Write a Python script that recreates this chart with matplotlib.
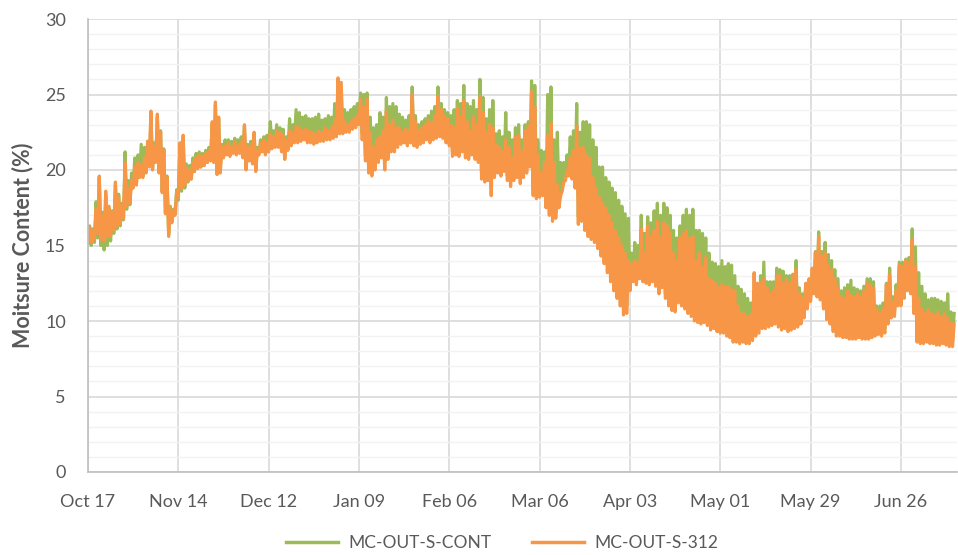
import numpy as np
import matplotlib
matplotlib.use("Agg")
import matplotlib.pyplot as plt
from datetime import datetime, timedelta

plt.rcParams['font.family'] = ['Lato', 'DejaVu Sans']

start_date = "2018-10-17"
tick_labels = ["Oct 17", "Nov 14", "Dec 12", "Jan 09", "Feb 06", "Mar 06",
               "Apr 03", "May 01", "May 29", "Jun 26"]
series_names = ["MC-OUT-S-CONT", "MC-OUT-S-312"]

# Daily low / high readings (one value per day, starting Oct 17)
orange_hi = [
    16.2, 16.0, 17.4, 19.6, 17.0, 18.6, 17.6, 17.2, 19.2, 18.2, 17.6, 20.5, 18.8, 19.3,
    20.2, 20.5, 20.3, 20.8, 21.9, 23.9, 21.5, 23.7, 22.5, 21.3, 19.5, 17.5, 17.3, 18.6,
    21.8, 22.3, 20.2, 20.0, 20.5, 20.8, 21.0, 20.9, 21.1, 21.3, 23.2, 24.5, 23.5, 21.5,
    21.6, 21.8, 21.5, 21.9, 21.6, 21.8, 23.0, 21.5, 21.6, 22.5, 21.3, 21.8, 22.0, 21.8,
    22.4, 22.2, 22.6, 22.5, 22.3, 21.9, 22.6, 22.4, 22.9, 22.8, 22.6, 22.7, 22.6, 22.5,
    22.4, 22.6, 22.5, 22.8, 22.6, 22.8, 23.3, 26.1, 25.8, 23.3, 23.0, 23.2, 23.4, 23.6,
    24.7, 24.2, 24.7, 22.5, 21.5, 22.0, 22.2, 22.6, 23.9, 23.0, 23.3, 22.8, 22.8, 22.5,
    22.7, 22.6, 25.0, 23.2, 22.6, 22.8, 23.0, 23.3, 23.1, 23.6, 24.9, 24.0, 23.6, 23.4,
    23.0, 22.8, 24.1, 23.5, 24.6, 23.2, 22.6, 23.5, 23.0, 24.8, 23.8, 22.5, 23.0, 22.8,
    21.7, 21.5, 21.2, 22.0, 21.5, 20.8, 22.2, 22.3, 21.2, 22.6, 22.9, 25.2, 24.2, 21.0,
    19.8, 20.5, 22.3, 23.1, 20.5, 19.0, 18.3, 19.2, 20.0, 20.8, 21.3, 22.9, 21.4, 21.5,
    21.0, 20.8, 19.5, 18.8, 18.2, 17.8, 17.5, 17.0, 16.5, 16.0, 15.5, 15.0, 14.5, 14.0,
    13.8, 14.0, 13.9, 16.1, 14.5, 16.3, 15.6, 16.0, 16.6, 15.5, 16.5, 16.3, 15.8, 14.5,
    14.0, 15.5, 15.8, 16.0, 15.5, 15.6, 14.0, 14.5, 13.6, 14.2, 12.8, 12.7, 12.5, 12.2,
    12.4, 12.3, 12.3, 12.1, 12.0, 11.0, 10.5, 10.5, 10.3, 10.4, 13.2, 12.5, 12.5, 12.8,
    12.2, 11.8, 12.0, 13.0, 13.0, 12.5, 12.8, 12.5, 13.0, 13.4, 11.8, 11.5, 12.5, 12.8,
    13.5, 14.5, 15.6, 14.3, 14.5, 13.7, 13.4, 12.8, 12.2, 11.6, 11.5, 12.0, 11.7, 11.6,
    11.8, 11.6, 12.0, 12.5, 12.4, 12.2, 10.8, 10.5, 10.8, 12.4, 13.1, 11.2, 12.0, 13.7,
    13.6, 14.0, 13.8, 15.4, 13.6, 11.5, 10.8, 10.5, 10.8, 10.5, 10.4, 10.6, 10.3, 10.5,
    10.2, 9.9, 9.8]
orange_lo = [
    15.3, 15.2, 15.4, 15.8, 15.4, 15.3, 15.6, 15.6, 16.0, 16.3, 16.4, 16.8, 17.6, 17.8,
    18.8, 19.0, 19.5, 19.5, 19.8, 20.2, 20.0, 20.5, 19.8, 18.5, 17.1, 15.6, 16.5, 17.0,
    18.2, 18.8, 19.0, 19.3, 19.4, 19.9, 20.1, 20.2, 20.3, 20.5, 20.6, 20.5, 19.7, 19.8,
    20.8, 21.0, 20.9, 21.1, 21.0, 21.1, 20.8, 20.0, 20.6, 20.4, 19.9, 21.0, 21.2, 21.0,
    21.2, 21.4, 21.5, 21.5, 21.2, 20.7, 21.3, 21.6, 21.8, 21.8, 21.9, 22.0, 21.8, 21.8,
    21.7, 21.8, 21.9, 21.9, 22.0, 22.0, 22.1, 22.2, 22.4, 22.4, 22.5, 22.5, 22.7, 22.8,
    23.0, 22.0, 20.6, 19.8, 19.6, 20.0, 20.5, 20.8, 20.0, 20.7, 21.2, 21.2, 21.5, 21.7,
    21.8, 21.6, 21.8, 21.6, 21.5, 21.7, 21.8, 22.0, 21.8, 22.0, 22.1, 22.2, 22.1, 21.8,
    21.6, 20.9, 21.0, 20.9, 21.2, 20.8, 20.7, 21.0, 20.7, 20.5, 19.4, 19.2, 19.3, 18.3,
    19.5, 19.8, 19.6, 19.9, 19.3, 18.9, 19.3, 19.5, 19.1, 19.5, 19.8, 20.2, 18.3, 18.1,
    18.2, 18.3, 17.5, 17.0, 16.6, 16.8, 17.5, 18.6, 19.3, 19.6, 19.4, 18.8, 16.4, 16.6,
    16.0, 15.6, 15.4, 15.2, 14.8, 14.3, 13.8, 13.2, 12.6, 12.0, 11.5, 11.0, 10.4, 10.5,
    12.0, 12.6, 12.4, 12.8, 12.6, 12.5, 12.4, 12.6, 12.3, 11.8, 12.2, 11.5, 11.0, 10.7,
    10.6, 11.2, 11.0, 10.8, 10.5, 10.3, 10.0, 9.9, 9.8, 9.9, 9.7, 9.4, 9.5, 9.3,
    9.2, 9.2, 9.0, 8.9, 8.6, 8.6, 8.5, 8.6, 8.5, 8.5, 8.7, 9.0, 9.2, 9.5,
    9.5, 9.6, 9.7, 9.8, 9.6, 9.4, 9.5, 9.3, 9.4, 9.5, 9.6, 9.8, 10.2, 10.8,
    11.3, 11.8, 11.6, 11.4, 10.8, 10.1, 9.8, 9.3, 9.0, 9.0, 8.9, 8.9, 8.8, 8.8,
    8.8, 8.9, 8.8, 8.8, 8.8, 8.9, 9.0, 9.1, 9.0, 9.2, 9.8, 10.2, 10.3, 11.0,
    11.0, 11.5, 12.0, 11.8, 10.5, 8.6, 8.5, 8.5, 8.6, 8.5, 8.5, 8.4, 8.4, 8.5,
    8.4, 8.3, 8.3]
green_hi = [
    16.3, 16.1, 17.9, 19.5, 17.2, 18.3, 17.5, 17.3, 19.0, 18.4, 17.8, 21.2, 19.3, 19.8,
    20.8, 21.0, 21.7, 21.5, 21.9, 23.6, 21.8, 23.5, 22.6, 21.4, 19.6, 17.6, 17.4, 18.7,
    21.6, 22.0, 20.4, 20.3, 20.8, 21.1, 21.2, 21.1, 21.3, 21.5, 23.0, 24.3, 23.4, 21.7,
    22.0, 22.0, 21.9, 22.1, 22.0, 22.2, 22.9, 21.7, 21.9, 22.4, 21.5, 22.0, 22.2, 22.3,
    23.2, 22.6, 23.0, 22.8, 22.7, 22.2, 23.4, 23.0, 24.0, 23.8, 23.5, 23.6, 23.4, 23.4,
    23.5, 23.7, 23.3, 23.4, 23.6, 23.5, 24.4, 24.9, 24.8, 24.0, 23.8, 24.0, 24.2, 24.4,
    25.1, 25.0, 25.1, 23.5, 22.8, 23.0, 23.8, 23.5, 24.8, 24.2, 24.4, 24.2, 23.7, 23.5,
    23.3, 23.6, 25.5, 23.6, 23.0, 23.2, 23.4, 23.6, 23.9, 24.2, 25.5, 24.4, 24.0, 23.8,
    23.6, 24.0, 24.6, 24.4, 25.6, 24.4, 24.2, 24.6, 24.0, 26.0, 24.8, 23.4, 24.0, 24.6,
    22.4, 22.6, 22.2, 23.8, 22.5, 22.0, 22.8, 23.0, 22.0, 23.0, 23.2, 25.9, 25.6, 22.0,
    21.3, 21.2, 25.0, 25.5, 22.0, 22.5, 20.5, 20.5, 21.0, 22.2, 22.6, 24.4, 22.5, 23.2,
    23.2, 23.0, 22.0, 21.5, 20.2, 20.2, 19.5, 19.2, 18.8, 18.5, 18.0, 17.6, 17.1, 16.8,
    14.5, 15.2, 15.0, 17.0, 15.8, 16.9, 16.5, 17.3, 17.8, 17.0, 17.8, 17.5, 17.0, 16.0,
    15.5, 16.3, 17.0, 17.4, 17.0, 17.4, 16.0, 16.0, 15.8, 15.5, 14.5, 13.9, 13.8, 13.6,
    14.0, 13.6, 13.8, 13.7, 13.0, 12.3, 12.1, 11.8, 11.5, 11.2, 12.0, 12.0, 13.0, 13.9,
    12.6, 12.6, 12.6, 13.5, 13.4, 13.3, 13.0, 13.0, 13.1, 14.0, 12.2, 11.8, 12.4, 12.6,
    13.2, 14.6, 15.9, 14.6, 15.2, 14.4, 14.0, 13.4, 12.8, 12.0, 12.2, 12.4, 12.7, 12.2,
    12.1, 12.0, 12.3, 12.8, 12.8, 12.6, 11.0, 11.0, 11.2, 12.5, 13.5, 11.6, 12.4, 13.9,
    13.9, 14.1, 14.2, 16.1, 14.9, 13.2, 12.3, 11.8, 11.4, 11.5, 11.5, 11.4, 11.3, 11.2,
    11.8, 10.6, 10.5]
green_lo = [
    15.2, 15.0, 15.2, 15.5, 15.0, 14.7, 15.0, 15.3, 15.8, 16.1, 16.3, 16.7, 17.4, 17.7,
    18.9, 19.1, 19.6, 19.6, 19.9, 20.3, 20.1, 20.6, 19.9, 18.6, 17.2, 15.8, 16.6, 17.2,
    18.0, 18.6, 18.8, 19.2, 19.4, 19.9, 20.1, 20.2, 20.3, 20.5, 20.7, 20.6, 19.9, 20.0,
    20.9, 21.1, 21.0, 21.2, 21.1, 21.2, 20.9, 20.2, 20.7, 20.5, 20.0, 21.1, 21.3, 21.2,
    21.4, 21.6, 21.7, 21.7, 21.4, 20.9, 21.5, 21.8, 22.0, 22.0, 22.1, 22.2, 22.0, 22.0,
    21.9, 22.0, 22.1, 22.1, 22.2, 22.2, 22.3, 22.4, 22.6, 22.6, 22.7, 22.7, 22.9, 23.0,
    23.2, 22.4, 21.0, 20.2, 20.0, 20.4, 20.9, 21.2, 20.5, 21.0, 21.5, 21.5, 21.8, 22.0,
    22.0, 21.9, 22.0, 21.8, 21.7, 21.9, 22.0, 22.2, 22.0, 22.2, 22.3, 22.4, 22.3, 22.0,
    21.9, 21.2, 21.3, 21.2, 21.5, 21.1, 21.0, 21.3, 21.0, 20.9, 19.8, 19.6, 19.7, 18.8,
    19.8, 20.1, 19.9, 20.2, 19.6, 19.2, 19.6, 19.8, 19.4, 19.8, 20.1, 20.5, 18.7, 18.5,
    18.5, 18.6, 18.0, 17.5, 17.0, 17.2, 17.8, 18.9, 19.6, 19.9, 19.7, 19.2, 16.9, 17.1,
    16.5, 16.1, 15.9, 15.7, 15.3, 14.8, 14.3, 13.7, 13.1, 12.5, 12.0, 11.5, 10.9, 11.0,
    12.3, 12.9, 12.7, 13.1, 12.9, 12.8, 12.7, 12.9, 12.6, 12.1, 12.5, 11.8, 11.3, 11.0,
    10.9, 11.5, 11.3, 11.1, 10.8, 10.6, 10.3, 10.2, 10.1, 10.2, 10.0, 9.7, 9.8, 9.6,
    9.5, 9.5, 9.3, 9.2, 8.9, 8.9, 8.8, 8.9, 8.8, 8.8, 9.0, 9.3, 9.5, 9.8,
    9.8, 9.9, 10.0, 10.1, 9.9, 9.7, 9.8, 9.6, 9.7, 9.8, 9.9, 10.1, 10.5, 11.0,
    11.5, 12.0, 11.8, 11.6, 11.0, 10.4, 10.1, 9.6, 9.3, 9.3, 9.2, 9.2, 9.1, 9.1,
    9.1, 9.2, 9.1, 9.1, 9.1, 9.2, 9.3, 9.4, 9.3, 9.5, 10.1, 10.5, 10.6, 11.2,
    11.2, 11.7, 12.2, 12.0, 10.8, 8.9, 8.8, 8.8, 8.9, 8.8, 8.8, 8.7, 8.7, 8.8,
    8.7, 8.6, 8.6]

t0 = datetime.strptime(start_date, "%Y-%m-%d")


def daily_trace(lo, hi):
    xs, ys = [], []
    for d, (a, b) in enumerate(zip(lo, hi)):
        xs += [t0 + timedelta(days=d), t0 + timedelta(days=d + 0.5)]
        ys += [a, b]
    return xs, ys


fig = plt.figure(figsize=(9.58, 5.55), dpi=100)
ax = fig.add_axes([88 / 958, 1 - 472 / 555, (958 - 88) / 958 - 0.001, (472 - 19) / 555])

green = "#9BBB59"
orange = "#F79646"
gx, gy = daily_trace(green_lo, green_hi)
ox, oy = daily_trace(orange_lo, orange_hi)
ax.plot(gx, gy, color=green, lw=2.3, label=series_names[0])
ax.plot(ox, oy, color=orange, lw=2.3, label=series_names[1])

ax.set_ylim(0, 30)
ax.set_yticks(np.arange(0, 31, 5))
ax.set_yticks(np.arange(0, 31, 1), minor=True)
ticks = [t0 + timedelta(days=28 * i) for i in range(len(tick_labels))]
ax.set_xticks(ticks)
ax.set_xticklabels(tick_labels)
ax.set_xlim(t0, t0 + timedelta(days=269.4))

ax.grid(True, which='major', axis='both', color='#D9D9D9', lw=1.2)
ax.grid(True, which='minor', axis='y', color='#F2F2F2', lw=1.0)
ax.set_axisbelow(True)
for s in ['top', 'right']:
    ax.spines[s].set_visible(False)
for s in ['left', 'bottom']:
    ax.spines[s].set_color('#BFBFBF')
    ax.spines[s].set_linewidth(1.2)
ax.tick_params(axis='both', which='both', length=0, labelsize=13, labelcolor='#595959')
ax.tick_params(axis='y', pad=16)
ax.tick_params(axis='x', pad=16)

ax.set_ylabel("Moitsure Content (%)", fontsize=15.5, fontweight='bold', color='#595959')
ax.yaxis.set_label_coords(-0.063, 0.5)

leg = fig.legend(loc='center', bbox_to_anchor=(0.524, 1 - 543 / 555), ncol=2, frameon=False,
                 fontsize=12.5, handlelength=3.0, columnspacing=2.3, handletextpad=0.6)
for txt in leg.get_texts():
    txt.set_color('#595959')
for line in leg.get_lines():
    line.set_linewidth(2.5)

fig.savefig("out.png", dpi=100)
